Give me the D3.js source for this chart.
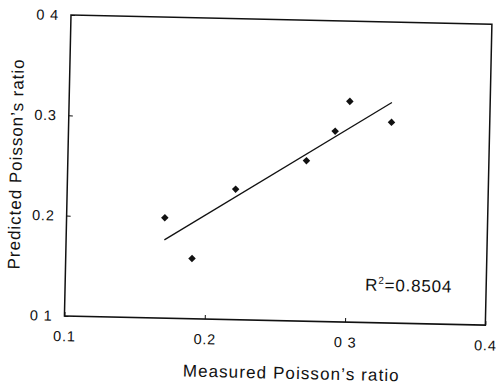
<!DOCTYPE html>
<html>
<head>
<meta charset="utf-8">
<script src="https://cdn.jsdelivr.net/npm/d3@7"></script>
<style>
  html, body { margin: 0; padding: 0; background: #fff; }
  svg { display: block; }
  text { font-family: "Liberation Sans", Arial, Helvetica, sans-serif; fill: #111; }
</style>
</head>
<body>
<svg id="chart" width="496" height="385"></svg>
<script>
// ---- data ----
const measured  = [0.17, 0.19, 0.22, 0.27, 0.29, 0.30, 0.33];
const predicted = [0.20, 0.16, 0.23, 0.26, 0.29, 0.32, 0.30];
const xTicks = [0.1, 0.2, 0.3, 0.4];
const xTickLabels = ["0.1", "0.2", "0 3", "0.4"];
const yTicks = [0.1, 0.2, 0.3, 0.4];
const yTickLabels = ["0 1", "0.2", "0.3", "0 4"];
const xTitle = "Measured Poisson\u2019s ratio";
const yTitle = "Predicted Poisson\u2019s ratio";
const r2Label = "0.8504";

// ---- layout ----
const W = 421, H = 301;
const svg = d3.select("#chart");
const g = svg.append("g").attr("transform", "translate(71,15) rotate(1.25)");

const x = d3.scaleLinear().domain([0.1, 0.4]).range([0, W]);
const y = d3.scaleLinear().domain([0.1, 0.4]).range([H, 0]);

// frame
g.append("rect").attr("x", 0).attr("y", 0).attr("width", W).attr("height", H)
  .attr("fill", "none").attr("stroke", "#111").attr("stroke-width", 1.5);

// axes
const xAxis = d3.axisBottom(x).tickValues(xTicks)
  .tickFormat((d, i) => xTickLabels[i]).tickSizeInner(-4).tickSizeOuter(0).tickPadding(15);
const yAxis = d3.axisLeft(y).tickValues(yTicks)
  .tickFormat((d, i) => yTickLabels[i]).tickSizeInner(-4).tickSizeOuter(0).tickPadding(12);

const gx = g.append("g").attr("transform", `translate(0,${H})`).call(xAxis);
const gy = g.append("g").call(yAxis);
[gx, gy].forEach(a => {
  a.select(".domain").remove();
  a.selectAll("line").attr("stroke", "#111").attr("stroke-width", 1);
  a.selectAll("text").attr("font-size", 14.5).attr("fill", "#111")
    .attr("letter-spacing", 0.8)
    .style("font-family", "'Liberation Sans', Arial, sans-serif");
});

// regression line computed from the data
const n = measured.length;
const mx = d3.mean(measured), my = d3.mean(predicted);
let sxy = 0, sxx = 0;
for (let i = 0; i < n; i++) {
  sxy += (measured[i] - mx) * (predicted[i] - my);
  sxx += (measured[i] - mx) ** 2;
}
const slope = sxy / sxx, intercept = my - slope * mx;
const xr = d3.extent(measured);
const fit = xr.map(v => [v, intercept + slope * v]);
g.append("path").datum(fit)
  .attr("d", d3.line().x(d => x(d[0])).y(d => y(d[1])))
  .attr("fill", "none").attr("stroke", "#111").attr("stroke-width", 1.3);

// points
const sym = d3.symbol().type(d3.symbolDiamond2).size(36);
g.selectAll("path.pt").data(measured).enter().append("path")
  .attr("class", "pt")
  .attr("d", sym)
  .attr("transform", (d, i) => `translate(${x(d)},${y(predicted[i])})`)
  .attr("fill", "#111");

// titles
g.append("text").attr("x", W / 2 + 17).attr("y", H + 58)
  .attr("text-anchor", "middle").attr("font-size", 17)
  .attr("textLength", 216).attr("lengthAdjust", "spacing")
  .text(xTitle);
g.append("text")
  .attr("transform", `translate(-46,${H / 2}) rotate(-90)`)
  .attr("text-anchor", "middle").attr("font-size", 17)
  .attr("textLength", 210).attr("lengthAdjust", "spacing")
  .text(yTitle);

// R^2 annotation
const rt = g.append("text").attr("x", 300).attr("y", 269).attr("font-size", 17)
  .attr("letter-spacing", 0.8);
rt.append("tspan").text("R");
rt.append("tspan").attr("font-size", 10).attr("dy", -7).text("2");
rt.append("tspan").attr("dy", 7).text("=" + r2Label);
</script>
</body>
</html>
